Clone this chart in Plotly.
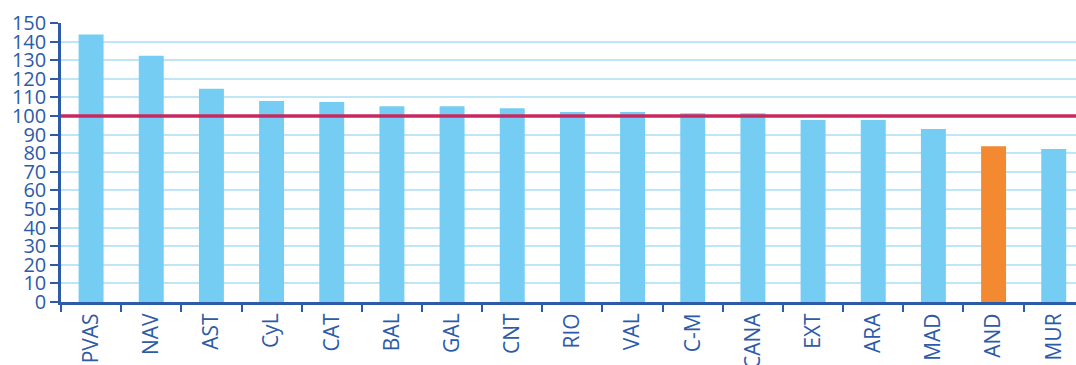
import plotly.graph_objects as go

regions = ["PVAS", "NAV", "AST", "CyL", "CAT", "BAL", "GAL", "CNT", "RIO",
           "VAL", "C-M", "CANA", "EXT", "ARA", "MAD", "AND", "MUR"]
values = [143.8, 132.4, 114.6, 108.0, 107.5, 105.3, 105.3, 104.2, 102.1,
          102.1, 101.5, 101.5, 97.8, 97.8, 93.0, 83.8, 82.2]
highlight = "AND"
reference_value = 100
y_ticks = list(range(0, 151, 10))

blue_bar = "#75CDF4"
orange_bar = "#F38A32"
text_blue = "#2E5BA8"
colors = [orange_bar if r == highlight else blue_bar for r in regions]

fig = go.Figure()
fig.add_trace(go.Bar(x=regions, y=values, marker_color=colors,
                     marker_line_width=0, width=0.415))

fig.add_shape(type="line", xref="paper", x0=0, x1=1, yref="y",
              y0=reference_value, y1=reference_value,
              line=dict(color="#C8285F", width=3.5), layer="above")

fig.update_layout(
    width=1076, height=365,
    margin=dict(l=61, r=0, t=23, b=63),
    paper_bgcolor="white", plot_bgcolor="white",
    showlegend=False,
    font=dict(family="Open Sans", color=text_blue),
    xaxis=dict(
        range=[-0.5, 16.37],
        automargin=False,
        tickangle=-90,
        tickfont=dict(size=21, color=text_blue, family="Open Sans"),
        showline=True, linecolor=text_blue, linewidth=3,
        ticks="outside", tickson="boundaries", ticklen=7, tickwidth=2,
        tickcolor=text_blue,
        showgrid=False,
    ),
    yaxis=dict(
        range=[0, 150],
        automargin=False,
        tickvals=y_ticks,
        tickfont=dict(size=20, color=text_blue, family="Open Sans"),
        showline=True, linecolor=text_blue, linewidth=2.5,
        ticks="outside", ticklen=8, tickwidth=2, tickcolor=text_blue,
        showgrid=True, gridcolor="#BEE6F6", gridwidth=2,
        zeroline=False,
    ),
)

fig.write_html("out.html")
